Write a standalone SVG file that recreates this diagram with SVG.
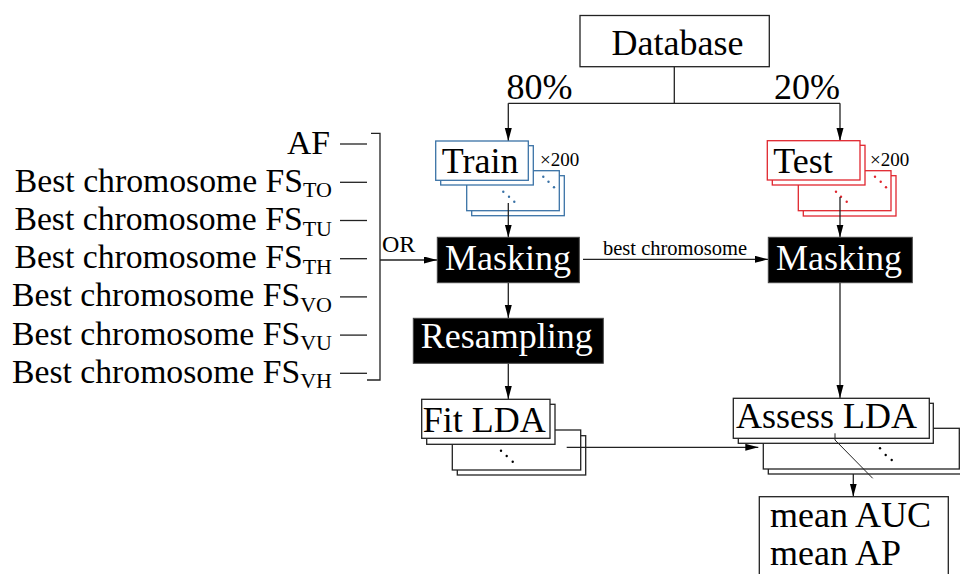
<svg xmlns="http://www.w3.org/2000/svg" width="960" height="574" viewBox="0 0 960 574">
<style>
text{font-family:"Liberation Serif","Times New Roman",serif;fill:#000}
.big{font-size:36px}
.lbl{font-size:33.7px}
.sub{font-size:22px}
.sm{font-size:19px}
.wt{fill:#fff}
.box{fill:#fff;stroke:#222;stroke-width:1.3}
.bbox{fill:#fff;stroke:#3a72a6;stroke-width:1.3}
.rbox{fill:#fff;stroke:#e0262e;stroke-width:1.3}
.blk{fill:#000;stroke:#444;stroke-width:1}
.ln{fill:none;stroke:#222;stroke-width:1.3}
.arr{fill:none;stroke:#222;stroke-width:1.3;marker-end:url(#ah)}
</style>
<defs>
<marker id="ah" markerUnits="userSpaceOnUse" markerWidth="14" markerHeight="8" refX="13" refY="3.5" orient="auto">
<path d="M0,0 L13,3.5 L0,7 z" fill="#000"/>
</marker>
</defs>
<rect width="960" height="574" fill="#fff"/>

<g id="connectors">
<polyline class="ln" points="674.3,66.7 674.3,103.3"/>
<polyline class="ln" points="508.3,103.3 840,103.3"/>
<line class="arr" x1="508.3" y1="103.3" x2="508.3" y2="141"/>
<line class="arr" x1="840" y1="103.3" x2="840" y2="141"/>
<line class="arr" x1="380" y1="260" x2="437" y2="260"/>
<line class="arr" x1="583" y1="259.3" x2="768" y2="259.3"/>
<line class="arr" x1="508.3" y1="283" x2="508.3" y2="318"/>
<line class="arr" x1="508.3" y1="363.5" x2="508.3" y2="399"/>
<line class="arr" x1="840" y1="283" x2="840" y2="398"/>
<line class="arr" x1="853.3" y1="443.5" x2="853.3" y2="496.5"/>
<text x="603" y="255" style="font-size:20.5px">best chromosome</text>
<text x="382" y="251.5" style="font-size:24px">OR</text>
<text x="506.5" y="99.3" class="big">80%</text>
<text x="774" y="99.3" class="big">20%</text>
</g>

<g id="database">
<rect class="box" x="580" y="15.5" width="189.3" height="51.2"/>
<text x="611.5" y="55" class="big">Database</text>
</g>

<g id="inputs">
<text x="330" y="153.5" class="lbl" text-anchor="end">AF</text>
<text x="332" y="191.7" class="lbl" text-anchor="end">Best chromosome FS<tspan class="sub" dy="5.5">TO</tspan></text>
<text x="332" y="230" class="lbl" text-anchor="end">Best chromosome FS<tspan class="sub" dy="5.5">TU</tspan></text>
<text x="332" y="268.2" class="lbl" text-anchor="end">Best chromosome FS<tspan class="sub" dy="5.5">TH</tspan></text>
<text x="332" y="306.4" class="lbl" text-anchor="end">Best chromosome FS<tspan class="sub" dy="5.5">VO</tspan></text>
<text x="332" y="344.6" class="lbl" text-anchor="end">Best chromosome FS<tspan class="sub" dy="5.5">VU</tspan></text>
<text x="332" y="382.8" class="lbl" text-anchor="end">Best chromosome FS<tspan class="sub" dy="5.5">VH</tspan></text>
<g class="ln">
<line x1="340" y1="144" x2="367" y2="144"/>
<line x1="340" y1="182.3" x2="367" y2="182.3"/>
<line x1="340" y1="220.5" x2="367" y2="220.5"/>
<line x1="340" y1="258.7" x2="367" y2="258.7"/>
<line x1="340" y1="296.9" x2="367" y2="296.9"/>
<line x1="340" y1="335.1" x2="367" y2="335.1"/>
<line x1="340" y1="373.3" x2="367" y2="373.3"/>
<polyline points="371,133.3 380,133.3 380,380 367,380"/>
</g>
</g>

<g id="train">
<rect class="bbox" x="471.7" y="175.7" width="92.6" height="40"/>
<rect class="bbox" x="466.7" y="170.7" width="92.6" height="40"/>
<rect class="bbox" x="440.7" y="145.7" width="92.6" height="39.3"/>
<rect class="bbox" x="435.7" y="141" width="92.6" height="39.3"/>
<g fill="#3a72a6">
<circle cx="543.3" cy="176.7" r="1.2"/><circle cx="548.5" cy="181.8" r="1.2"/><circle cx="554" cy="187.3" r="1.2"/>
<circle cx="503.3" cy="191.7" r="1.2"/><circle cx="509" cy="196.7" r="1.2"/><circle cx="514.3" cy="201.7" r="1.2"/>
</g>
<text x="441.7" y="173.3" class="big">Train</text>
<text x="540" y="166" class="sm">×200</text>
<line class="arr" x1="508.3" y1="203" x2="508.3" y2="237.5"/>
</g>

<g id="test">
<rect class="rbox" x="803.3" y="175.7" width="92.7" height="40.3"/>
<rect class="rbox" x="798.3" y="170.7" width="92.7" height="40"/>
<rect class="rbox" x="772.3" y="145.3" width="92.7" height="39.7"/>
<rect class="rbox" x="767.3" y="140.7" width="92.7" height="39.3"/>
<g fill="#e0262e">
<circle cx="875" cy="176.7" r="1.2"/><circle cx="880.7" cy="181.7" r="1.2"/><circle cx="886" cy="187.3" r="1.2"/>
<circle cx="836" cy="191.7" r="1.2"/><circle cx="841" cy="196.7" r="1.2"/><circle cx="846.7" cy="201.7" r="1.2"/>
</g>
<text x="773.3" y="173.3" class="big">Test</text>
<text x="870" y="166" class="sm">×200</text>
<line class="arr" x1="840" y1="197" x2="840" y2="237.5"/>
</g>

<g id="masking-train">
<rect class="blk" x="437.3" y="237.3" width="142" height="45.4"/>
<text x="445" y="270" class="big wt">Masking</text>
</g>

<g id="masking-test">
<rect class="blk" x="768.3" y="237.3" width="144" height="45.4"/>
<text x="776" y="270" class="big wt">Masking</text>
</g>

<g id="resampling">
<rect class="blk" x="413.3" y="318.3" width="190" height="45"/>
<text x="420.7" y="348.3" class="big wt">Resampling</text>
</g>

<g id="fit-lda">
<rect class="box" x="457.3" y="435.7" width="128.4" height="39.3"/>
<rect class="box" x="452.3" y="430" width="128.4" height="40"/>
<rect class="box" x="426.7" y="404.3" width="128.3" height="40"/>
<rect class="box" x="421.7" y="399.3" width="128.3" height="39"/>
<g fill="#000">
<circle cx="501" cy="450.7" r="1.2"/><circle cx="506.7" cy="456" r="1.2"/><circle cx="512.7" cy="461.7" r="1.2"/>
</g>
<text x="422.7" y="431.7" class="big">Fit LDA</text>
<line class="arr" x1="566.7" y1="447.3" x2="758.3" y2="447.3"/>
</g>

<g id="assess-lda">
<rect class="box" x="768.3" y="433.3" width="196" height="40.7"/>
<rect class="box" x="763.3" y="428.3" width="196" height="40.7"/>
<rect class="box" x="738.3" y="403.3" width="195" height="40"/>
<rect class="box" x="733.3" y="398.3" width="196" height="40"/>
<g fill="#000">
<circle cx="880" cy="448.3" r="1.2"/><circle cx="885.7" cy="455" r="1.2"/><circle cx="891.7" cy="460" r="1.2"/>
</g>
<text x="736" y="428.3" class="big">Assess LDA</text>
<polyline points="835,433.3 835,440 872.7,478.3" fill="none" stroke="#222" stroke-width="1"/>
</g>

<g id="result">
<rect class="box" x="759.3" y="496.7" width="189" height="90"/>
<text x="770" y="526.7" class="big">mean AUC</text>
<text x="770" y="565" class="big">mean AP</text>
</g>
</svg>
